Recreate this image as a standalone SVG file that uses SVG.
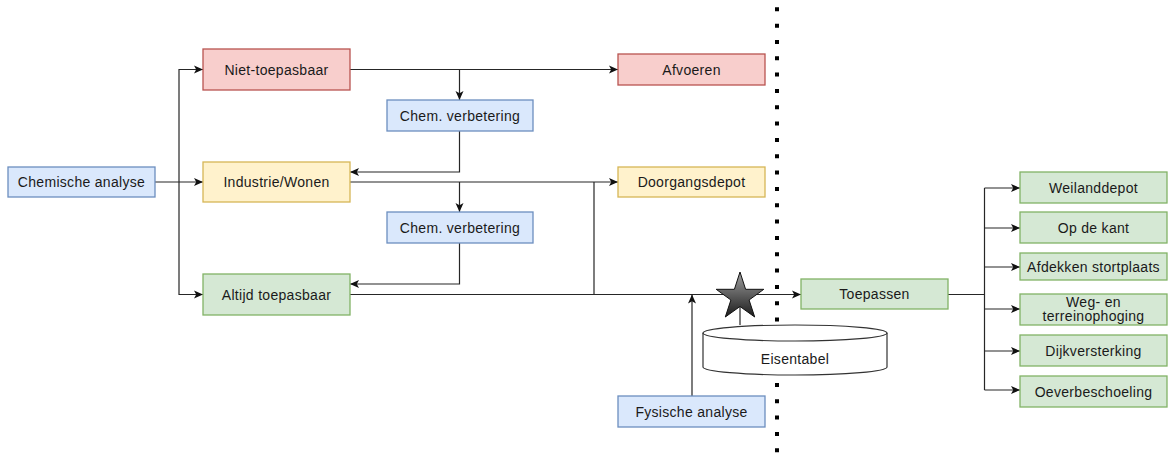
<svg xmlns="http://www.w3.org/2000/svg" width="1172" height="454" viewBox="0 0 1172 454">
<style>
  text { font-family: "Liberation Sans", Arial, Helvetica, sans-serif; font-size: 14px; fill: #1a1a1a; text-anchor: middle; letter-spacing: 0.3px; }
  .red { fill: #f8cecc; stroke: #b85450; stroke-width: 1.3; }
  .yel { fill: #fff2cc; stroke: #d6b656; stroke-width: 1.3; }
  .grn { fill: #d5e8d4; stroke: #82b366; stroke-width: 1.3; }
  .blu { fill: #dae8fc; stroke: #6c8ebf; stroke-width: 1.3; }
  .edge { fill: none; stroke: #262626; stroke-width: 1.2; }
  .arr { marker-end: url(#ah); }
</style>
<defs>
  <marker id="ah" markerUnits="userSpaceOnUse" markerWidth="10" markerHeight="10" viewBox="0 0 10 10" refX="9" refY="5" orient="auto">
    <path d="M0,1 L9,5 L0,9 L2.2,5 Z" fill="#111"/>
  </marker>
  <linearGradient id="sg" x1="0" y1="0" x2="0" y2="1">
    <stop offset="0" stop-color="#a0a0a0"/>
    <stop offset="1" stop-color="#1c1c1c"/>
  </linearGradient>
</defs>
<rect width="1172" height="454" fill="#ffffff"/>

<!-- separator -->
<line x1="777" y1="7.3" x2="777" y2="454" stroke="#000" stroke-width="4" stroke-dasharray="4 12.33"/>

<g id="connectors">
  <path class="edge arr" d="M155,182 H203"/>
  <path class="edge arr" d="M179,182 V69.5 H203"/>
  <path class="edge arr" d="M179,182 V294.5 H203"/>
  <path class="edge arr" d="M350,69.5 H618"/>
  <path class="edge arr" d="M459.5,69.5 V100"/>
  <path class="edge arr" d="M459.5,131 V172 H350"/>
  <path class="edge arr" d="M350,182 H618"/>
  <path class="edge arr" d="M459.5,182 V212"/>
  <path class="edge arr" d="M459.5,243 V284 H350"/>
  <path class="edge" d="M594,182 V294.5"/>
  <path class="edge arr" d="M350,294.5 H801"/>
  <path class="edge arr" d="M692,396 V294.5"/>
  <path class="edge" d="M740,300 V325"/>
  <path class="edge" d="M948,294.5 H984.5"/>
  <path class="edge" d="M984.5,188 V390"/>
  <path class="edge arr" d="M984.5,188 H1020"/>
  <path class="edge arr" d="M984.5,228 H1020"/>
  <path class="edge arr" d="M984.5,267 H1020"/>
  <path class="edge arr" d="M984.5,309 H1020"/>
  <path class="edge arr" d="M984.5,351 H1020"/>
  <path class="edge arr" d="M984.5,390 H1020"/>
</g>

<g id="chemische-analyse"><rect class="blu" x="8" y="167" width="147" height="30"/><text x="81.5" y="187">Chemische analyse</text></g>
<g id="niet-toepasbaar"><rect class="red" x="203" y="49" width="147" height="41"/><text x="276.5" y="74.5">Niet-toepasbaar</text></g>
<g id="industrie-wonen"><rect class="yel" x="203" y="162" width="147" height="40"/><text x="276.5" y="187">Industrie/Wonen</text></g>
<g id="altijd-toepasbaar"><rect class="grn" x="203" y="274" width="147" height="41"/><text x="276.5" y="299.5">Altijd toepasbaar</text></g>
<g id="chem-verbetering-1"><rect class="blu" x="387" y="100" width="146" height="31"/><text x="460" y="120.5">Chem. verbetering</text></g>
<g id="chem-verbetering-2"><rect class="blu" x="387" y="212" width="146" height="31"/><text x="460" y="232.5">Chem. verbetering</text></g>
<g id="afvoeren"><rect class="red" x="618" y="54" width="147" height="31"/><text x="691.5" y="74.5">Afvoeren</text></g>
<g id="doorgangsdepot"><rect class="yel" x="618" y="167" width="147" height="30"/><text x="691.5" y="187">Doorgangsdepot</text></g>
<g id="fysische-analyse"><rect class="blu" x="618" y="396" width="147" height="31"/><text x="691.5" y="416.5">Fysische analyse</text></g>
<g id="star">
  <polygon points="740,272 745.6,289.3 763.8,289.3 749.1,300 754.7,317 740,306.5 725.3,317 730.9,300 716.2,289.3 734.4,289.3" fill="url(#sg)" stroke="#111" stroke-width="1"/>
</g>
<g id="eisentabel">
  <path d="M703,333 A92,8 0 0 1 887,333 V367 A92,8 0 0 1 703,367 Z" fill="#ffffff" stroke="#333" stroke-width="1.2"/>
  <path d="M703,333 A92,8 0 0 0 887,333" fill="none" stroke="#333" stroke-width="1.2"/>
  <text x="795" y="364">Eisentabel</text>
</g>
<g id="toepassen"><rect class="grn" x="801" y="279" width="147" height="30"/><text x="874.5" y="299">Toepassen</text></g>
<g id="weilanddepot"><rect class="grn" x="1020" y="172" width="147" height="31"/><text x="1093.5" y="192.5">Weilanddepot</text></g>
<g id="op-de-kant"><rect class="grn" x="1020" y="212" width="147" height="31"/><text x="1093.5" y="232.5">Op de kant</text></g>
<g id="afdekken-stortplaats"><rect class="grn" x="1020" y="253" width="147" height="27"/><text x="1093.5" y="272">Afdekken stortplaats</text></g>
<g id="weg-en-terreinophoging"><rect class="grn" x="1020" y="294" width="147" height="31"/><text x="1093.5" y="307">Weg- en</text><text x="1093.5" y="321">terreinophoging</text></g>
<g id="dijkversterking"><rect class="grn" x="1020" y="335" width="147" height="31"/><text x="1093.5" y="355.5">Dijkversterking</text></g>
<g id="oeverbeschoeling"><rect class="grn" x="1020" y="376" width="147" height="31"/><text x="1093.5" y="396.5">Oeverbeschoeling</text></g>
</svg>
